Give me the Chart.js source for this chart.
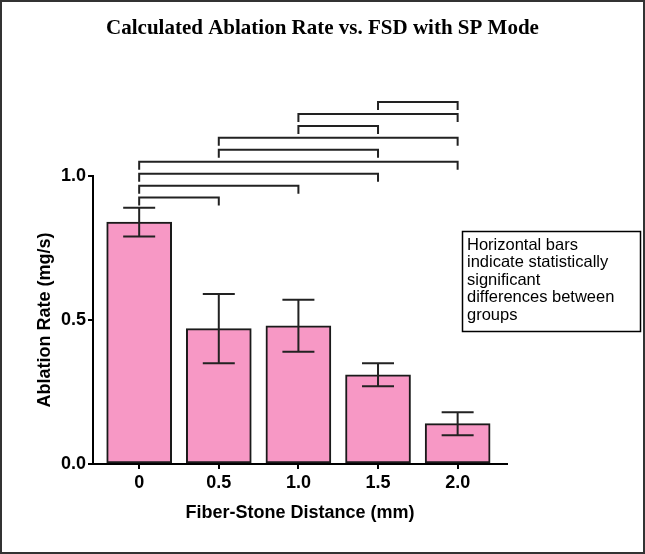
<!DOCTYPE html>
<html>
<head>
<meta charset="utf-8">
<script src="https://cdn.jsdelivr.net/npm/chart.js@4/dist/chart.umd.min.js"></script>
<style>
  html, body { margin: 0; padding: 0; background: #fff; }
  canvas { display: block; }
</style>
</head>
<body>
<canvas id="chart" width="645" height="554"></canvas>
<script>
// ---- Data ----
const distances = [0, 0.5, 1.0, 1.5, 2.0];
const distanceLabels = ["0", "0.5", "1.0", "1.5", "2.0"];
const ablationRate = [0.84, 0.47, 0.48, 0.31, 0.14];
const ablationErr = [0.05, 0.12, 0.09, 0.04, 0.04];
const yTicks = [0, 0.5, 1.0];
// significant pairs (indexes into distances), bottom to top
const sigPairs = [[0, 1], [0, 2], [0, 3], [0, 4], [1, 3], [1, 4], [2, 3], [2, 4], [3, 4]];
const noteLines = ["Horizontal bars", "indicate statistically", "significant", "differences between", "groups"];

const sans = "'Liberation Sans', Arial, sans-serif";

// ---- Plugins ----
const errorBars = {
  id: "errorBars",
  afterDatasetsDraw(chart) {
    const { ctx, scales: { x, y } } = chart;
    ctx.save();
    ctx.strokeStyle = "#222";
    ctx.lineWidth = 2;
    distances.forEach((d, i) => {
      const px = x.getPixelForValue(d);
      const top = y.getPixelForValue(ablationRate[i] + ablationErr[i]);
      const bot = y.getPixelForValue(ablationRate[i] - ablationErr[i]);
      ctx.beginPath();
      ctx.moveTo(px, top); ctx.lineTo(px, bot);
      ctx.moveTo(px - 16, top); ctx.lineTo(px + 16, top);
      ctx.moveTo(px - 16, bot); ctx.lineTo(px + 16, bot);
      ctx.stroke();
    });
    ctx.restore();
  }
};

const brackets = {
  id: "brackets",
  afterDraw(chart) {
    const { ctx, scales: { x, y } } = chart;
    ctx.save();
    ctx.strokeStyle = "#222";
    ctx.lineWidth = 2;
    sigPairs.forEach((p, k) => {
      const level = y.getPixelForValue(0.925 + k * 0.0415);
      const x1 = x.getPixelForValue(distances[p[0]]);
      const x2 = x.getPixelForValue(distances[p[1]]);
      ctx.beginPath();
      ctx.moveTo(x1, level + 8);
      ctx.lineTo(x1, level);
      ctx.lineTo(x2, level);
      ctx.lineTo(x2, level + 8);
      ctx.stroke();
    });
    ctx.restore();
  }
};

const frame = {
  id: "frame",
  afterDraw(chart) {
    const ctx = chart.ctx;
    ctx.save();
    // note box
    ctx.strokeStyle = "#000";
    ctx.lineWidth = 1.5;
    ctx.strokeRect(462.5, 231.5, 178, 100);
    ctx.fillStyle = "#000";
    ctx.font = "16.5px " + sans;
    ctx.textBaseline = "middle";
    noteLines.forEach((t, i) => ctx.fillText(t, 467, 245 + i * 17.5));
    // outer border
    ctx.strokeStyle = "#333";
    ctx.lineWidth = 2;
    ctx.strokeRect(1, 1, 643, 552);
    ctx.restore();
  }
};

// ---- Chart ----
new Chart(document.getElementById("chart"), {
  type: "bar",
  data: {
    datasets: [{
      data: distances.map((d, i) => ({ x: d, y: ablationRate[i] })),
      backgroundColor: "#f798c5",
      borderColor: "#1a1a1a",
      borderWidth: 2,
      borderSkipped: false,
      barThickness: 65
    }]
  },
  options: {
    responsive: false,
    animation: false,
    devicePixelRatio: 1,
    layout: { padding: { left: 0, right: 0, bottom: 26, top: 0 } },
    plugins: {
      legend: { display: false },
      tooltip: { enabled: false },
      title: {
        display: true,
        text: "Calculated Ablation Rate vs. FSD with SP Mode",
        color: "#000",
        font: { family: "'Liberation Serif', 'Times New Roman', serif", size: 21, weight: "bold" },
        padding: { top: 15.5, bottom: 135.3 }
      }
    },
    scales: {
      x: {
        type: "linear",
        min: -0.29,
        max: 2.31,
        offset: false,
        afterBuildTicks: s => { s.ticks = distances.map(v => ({ value: v })); },
        afterFit: s => { s.height = 64; },
        grid: { offset: false, drawOnChartArea: false, drawTicks: true, tickLength: 5, color: "#000", lineWidth: 2 },
        border: { color: "#000", width: 2 },
        ticks: {
          color: "#000",
          padding: 3,
          font: { family: sans, size: 18, weight: "bold" },
          callback: (v) => distanceLabels[distances.indexOf(v)]
        },
        title: {
          display: true,
          text: "Fiber-Stone Distance (mm)",
          color: "#000",
          font: { family: sans, size: 18, weight: "bold" },
          padding: { top: 4, bottom: 4 }
        }
      },
      y: {
        min: 0,
        max: 1.0,
        afterBuildTicks: s => { s.ticks = yTicks.map(v => ({ value: v })); },
        afterFit: s => { s.width = 93; },
        grid: { drawOnChartArea: false, drawTicks: true, tickLength: 5, color: "#000", lineWidth: 2 },
        border: { color: "#000", width: 2 },
        ticks: {
          color: "#000",
          padding: 2,
          font: { family: sans, size: 18, weight: "bold" },
          callback: v => v.toFixed(1)
        },
        title: {
          display: true,
          text: "Ablation Rate (mg/s)",
          color: "#000",
          font: { family: sans, size: 18, weight: "bold" },
          padding: { top: 34, bottom: 4 }
        }
      },
      // empty right-hand axis that only reserves room for the note box
      side: {
        position: "right",
        afterFit: s => { s.width = 138; },
        grid: { display: false },
        border: { display: false },
        ticks: { display: false }
      }
    }
  },
  plugins: [errorBars, brackets, frame]
});
</script>
</body>
</html>
